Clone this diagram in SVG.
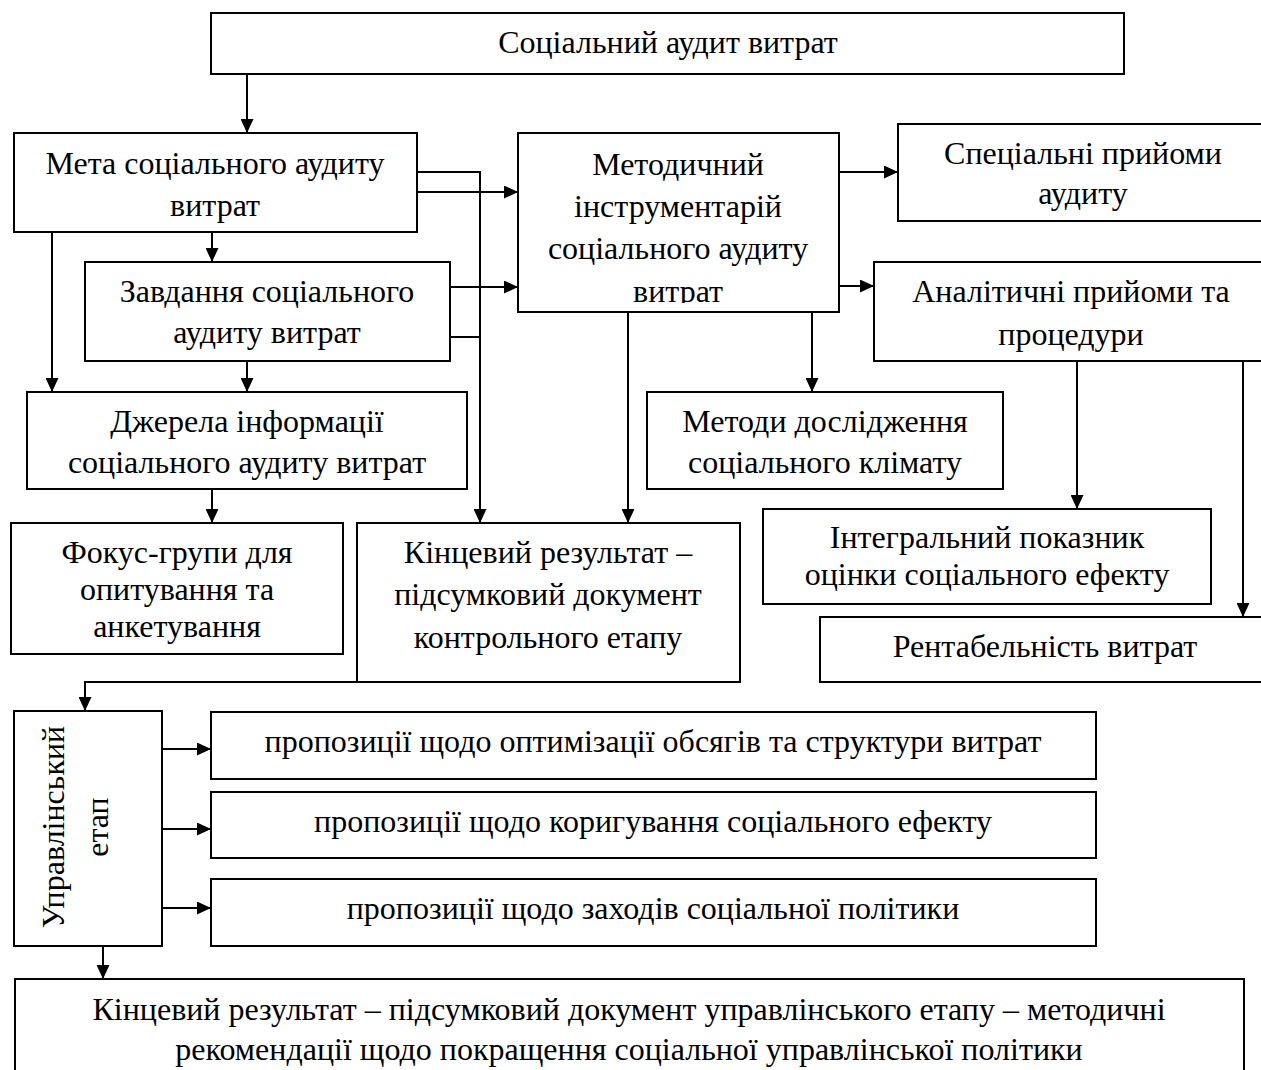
<svg xmlns="http://www.w3.org/2000/svg" width="1261" height="1070" viewBox="0 0 1261 1070">
<style>
rect{fill:#fff;stroke:#000;stroke-width:2}
text{font-family:"Liberation Serif","Times New Roman",serif;font-size:32px;fill:#000;text-anchor:middle}
.c path,.c line,.c polyline{fill:none;stroke:#000;stroke-width:2}
</style>
<defs>
<marker id="ah" markerUnits="userSpaceOnUse" markerWidth="14" markerHeight="13" refX="14" refY="6.5" orient="auto">
<path d="M0,0 L14,6.5 L0,13 z" fill="#000"/>
</marker>
<clipPath id="mclip"><rect x="518" y="133" width="321" height="170"/></clipPath>
</defs>
<rect x="0" y="0" width="1261" height="1070" style="fill:#fff;stroke:none"/>
<g class="c" id="connectors">
<line x1="247" y1="74" x2="247" y2="133" marker-end="url(#ah)"/>
<line x1="417" y1="192" x2="518" y2="192" marker-end="url(#ah)"/>
<polyline points="417,172 480,172 480,523" marker-end="url(#ah)"/>
<line x1="450" y1="337" x2="480" y2="337"/>
<line x1="450" y1="287" x2="518" y2="287" marker-end="url(#ah)"/>
<line x1="212" y1="232" x2="212" y2="262" marker-end="url(#ah)"/>
<line x1="52" y1="232" x2="52" y2="392" marker-end="url(#ah)"/>
<line x1="247" y1="361" x2="247" y2="392" marker-end="url(#ah)"/>
<line x1="212" y1="489" x2="212" y2="523" marker-end="url(#ah)"/>
<line x1="628" y1="312" x2="628" y2="523" marker-end="url(#ah)"/>
<line x1="812" y1="312" x2="812" y2="392" marker-end="url(#ah)"/>
<line x1="839" y1="172" x2="898" y2="172" marker-end="url(#ah)"/>
<line x1="839" y1="286" x2="874" y2="286" marker-end="url(#ah)"/>
<line x1="1077" y1="361" x2="1077" y2="509" marker-end="url(#ah)"/>
<line x1="1243" y1="361" x2="1243" y2="617" marker-end="url(#ah)"/>
<polyline points="357,682 85,682 85,711" marker-end="url(#ah)"/>
<line x1="162" y1="749" x2="211" y2="749" marker-end="url(#ah)"/>
<line x1="162" y1="829" x2="211" y2="829" marker-end="url(#ah)"/>
<line x1="162" y1="908" x2="211" y2="908" marker-end="url(#ah)"/>
<line x1="103" y1="946" x2="103" y2="979" marker-end="url(#ah)"/>
</g>
<g id="n-top"><rect x="211" y="13" width="913" height="61"/><text x="668" y="53">Соціальний аудит витрат</text></g>
<g id="n-meta"><rect x="14" y="133" width="403" height="99"/><text x="215" y="174">Мета соціального аудиту</text><text x="215" y="216">витрат</text></g>
<g id="n-zavd"><rect x="85" y="262" width="365" height="99"/><text x="267" y="302">Завдання соціального</text><text x="267" y="343">аудиту витрат</text></g>
<g id="n-metod"><rect x="518" y="133" width="321" height="179"/><g clip-path="url(#mclip)"><text x="678" y="175">Методичний</text><text x="678" y="217">інструментарій</text><text x="678" y="259">соціального аудиту</text><text x="678" y="302">витрат</text></g></g>
<g id="n-spec"><rect x="898" y="124" width="380" height="97"/><text x="1083" y="164">Спеціальні прийоми</text><text x="1083" y="204">аудиту</text></g>
<g id="n-anal"><rect x="874" y="262" width="400" height="99"/><text x="1071" y="302">Аналітичні прийоми та</text><text x="1071" y="345">процедури</text></g>
<g id="n-dzher"><rect x="27" y="392" width="440" height="97"/><text x="247" y="432">Джерела інформації</text><text x="247" y="473">соціального аудиту витрат</text></g>
<g id="n-metody"><rect x="647" y="392" width="356" height="97"/><text x="825" y="432">Методи дослідження</text><text x="825" y="473">соціального клімату</text></g>
<g id="n-fokus"><rect x="11" y="523" width="332" height="131"/><text x="177" y="563">Фокус-групи для</text><text x="177" y="600">опитування та</text><text x="177" y="637">анкетування</text></g>
<g id="n-kinc"><rect x="357" y="523" width="383" height="159"/><text x="548" y="563">Кінцевий результат –</text><text x="548" y="605">підсумковий документ</text><text x="548" y="648">контрольного етапу</text></g>
<g id="n-integr"><rect x="763" y="509" width="448" height="95"/><text x="987" y="548">Інтегральний показник</text><text x="987" y="585">оцінки соціального ефекту</text></g>
<g id="n-rent"><rect x="820" y="617" width="460" height="65"/><text x="1045" y="657">Рентабельність витрат</text></g>
<g id="n-upr"><rect x="14" y="711" width="148" height="235"/><text transform="translate(64,827) rotate(-90)">Управлінський</text><text transform="translate(108,827) rotate(-90)">етап</text></g>
<g id="n-p1"><rect x="211" y="712" width="885" height="67"/><text x="653" y="752">пропозиції щодо оптимізації обсягів та структури витрат</text></g>
<g id="n-p2"><rect x="211" y="792" width="885" height="66"/><text x="653" y="832">пропозиції щодо коригування соціального ефекту</text></g>
<g id="n-p3"><rect x="211" y="879" width="885" height="67"/><text x="653" y="919">пропозиції щодо заходів соціальної політики</text></g>
<g id="n-final"><rect x="15" y="979" width="1229" height="110"/><text x="629" y="1020">Кінцевий результат – підсумковий документ управлінського етапу – методичні</text><text x="629" y="1060">рекомендації щодо покращення соціальної управлінської політики</text></g>
</svg>
